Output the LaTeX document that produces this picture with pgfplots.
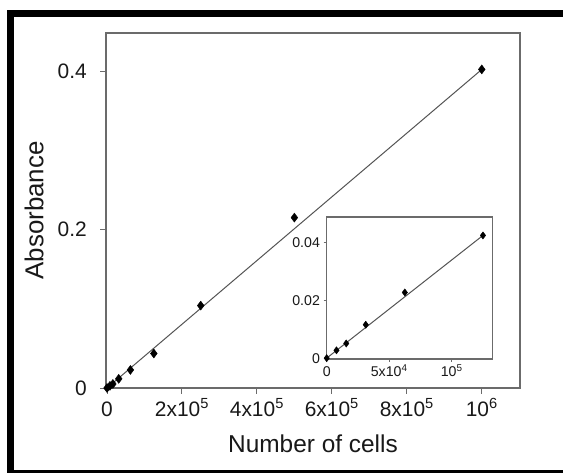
\documentclass[border=0pt]{standalone}
\usepackage{fontspec}
\setmainfont{Liberation Sans}
\usepackage{pgfplots}
\pgfplotsset{compat=1.18}
\definecolor{axgray}{rgb}{0.42,0.42,0.42}
\definecolor{lngray}{rgb}{0.33,0.33,0.33}
\definecolor{txt}{rgb}{0.1,0.1,0.1}

\begin{document}
\begin{tikzpicture}
\path[use as bounding box] (0,0) rectangle (563bp,473bp);
\fill[white] (0,0) rectangle (563bp,473bp);
\fill[black] (6.7bp,455.7bp) rectangle (563bp,463bp);
\fill[black] (6.7bp,0) rectangle (13.7bp,463bp);
\fill[black] (6.7bp,0) rectangle (563bp,2.5bp);

\begin{axis}[
  scale only axis, anchor=south west, at={(106bp,85bp)},
  width=414bp, height=355bp,
  xmin=-2670, xmax=1.102e6, ymin=0, ymax=0.448,
  axis line style={axgray, line width=1.1bp},
  tick style={axgray, line width=1bp},
  major tick length=6bp, tick align=outside, tick pos=left,
  xtick={0,200000,400000,600000,800000,1000000},
  xticklabels={0, 2x10\textsuperscript{5}, 4x10\textsuperscript{5}, 6x10\textsuperscript{5}, 8x10\textsuperscript{5}, 10\textsuperscript{6}},
  ytick={0,0.2,0.4}, yticklabels={0\hspace{-4.7bp},0.2,0.4},
  ticklabel style={font=\fontsize{21}{24}\selectfont, text=txt, inner sep=0pt},
  xticklabel style={text height=15bp, text depth=0pt, yshift=-7bp},
  yticklabel style={xshift=-13bp},
  xlabel={Number of cells}, ylabel={Absorbance},
  label style={text=txt, inner sep=0pt},
  xlabel style={font=\fontsize{24.5}{28}\selectfont, at={(axis description cs:0.5,-0.1803)}, anchor=base},
  ylabel style={font=\fontsize{26}{30}\selectfont, at={(axis description cs:-0.151,0.5)}, anchor=base},
  clip=false,
  scaled x ticks=false, scaled y ticks=false,
]
\addplot[lngray, line width=1bp] coordinates {(0,0) (1000000,0.402)};
\addplot[only marks, mark=diamond*, mark size=4.5bp, black] coordinates {
(0,0) (7812,0.0027) (15625,0.0051) (31250,0.0116) (62500,0.0228)
(125000,0.0435) (250000,0.104) (500000,0.215) (1000000,0.402)};
\end{axis}

\begin{axis}[
  scale only axis, anchor=south west, at={(326.7bp,114bp)},
  width=166bp, height=142bp,
  xmin=0, xmax=132800, ymin=-0.0003, ymax=0.049,
  axis background/.style={fill=white},
  axis line style={axgray, line width=1.1bp},
  tick style={axgray, line width=0.9bp},
  major tick length=3bp, tick align=outside, tick pos=left,
  xtick={0,50000,100000},
  xticklabels={0, 5x10\textsuperscript{4}, 10\textsuperscript{5}},
  ytick={0,0.02,0.04}, yticklabels={0,0.02,0.04},
  ticklabel style={font=\fontsize{14.2}{17}\selectfont, text=txt, inner sep=0pt},
  xticklabel style={text height=10.2bp, text depth=0pt, yshift=-4.5bp},
  yticklabel style={xshift=-3.6bp},
  clip=false,
  scaled x ticks=false, scaled y ticks=false,
]
\addplot[lngray, line width=1bp] coordinates {(0,0) (125000,0.0426)};
\addplot[only marks, mark=diamond*, mark size=3.6bp, black] coordinates {
(0,0) (7812,0.0027) (15625,0.0051) (31250,0.0116) (62500,0.0228) (125000,0.0426)};
\end{axis}
\end{tikzpicture}
\end{document}
